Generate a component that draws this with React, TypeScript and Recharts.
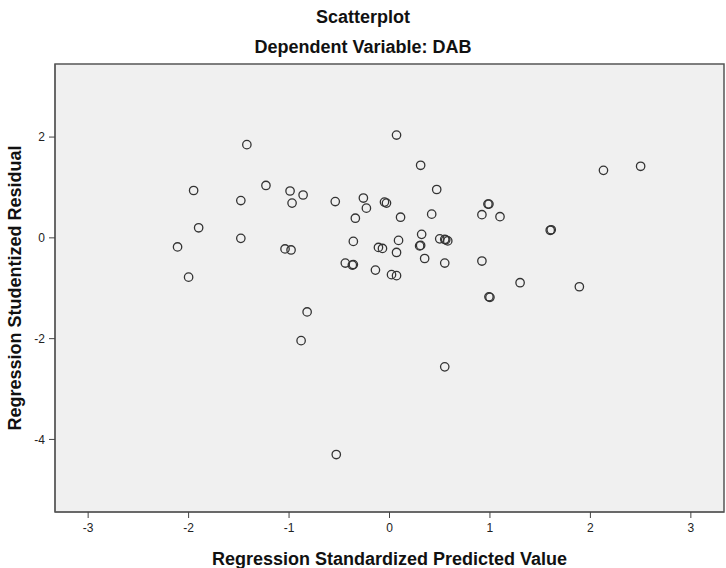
import { ScatterChart, Scatter, XAxis, YAxis, ReferenceArea, Label } from 'recharts'

// standardized predicted value vs studentized residual
const predicted = [
  -2.11, -2.0, -1.95, -1.9, -1.48, -1.48, -1.42, -1.23, -1.04, -0.98,
  -0.99, -0.97, -0.86, -0.82, -0.88, -0.54, -0.53, -0.44, -0.36, -0.37,
  -0.36, -0.34, -0.26, -0.23, -0.14, -0.11, -0.07, -0.05, -0.03, 0.02,
  0.07, 0.07, 0.09, 0.07, 0.11, 0.31, 0.3, 0.31, 0.32, 0.35,
  0.42, 0.47, 0.5, 0.55, 0.56, 0.58, 0.55, 0.55, 0.92, 0.92,
  0.98, 0.99, 0.99, 1.0, 1.1, 1.3, 1.6, 1.61, 1.89, 2.13, 2.5,
]
const residual = [
  -0.18, -0.78, 0.94, 0.2, 0.74, -0.01, 1.85, 1.04, -0.22, -0.24,
  0.93, 0.69, 0.85, -1.47, -2.04, 0.72, -4.3, -0.5, -0.53, -0.54,
  -0.07, 0.39, 0.79, 0.59, -0.64, -0.19, -0.21, 0.71, 0.69, -0.73,
  -0.75, -0.29, -0.05, 2.04, 0.41, 1.44, -0.16, -0.15, 0.07, -0.41,
  0.47, 0.96, -0.02, -0.03, -0.04, -0.06, -0.5, -2.56, 0.46, -0.46,
  0.67, 0.67, -1.17, -1.18, 0.42, -0.89, 0.15, 0.16, -0.97, 1.34, 1.42,
]
const xTicks = [-3, -2, -1, 0, 1, 2, 3]
const yTicks = [-4, -2, 0, 2]

const points = predicted.map((x, i) => ({ x, y: residual[i] }))

const FONT = '"Liberation Sans", Arial, sans-serif'

const Ring = (props: any) => (
  <circle cx={props.cx} cy={props.cy} r={4.2} fill="none" stroke="#333" strokeWidth={1.3} />
)

export default function App() {
  return (
    <div style={{ position: 'absolute', left: 0, top: 0, width: 726, height: 568, background: '#fff', fontFamily: FONT }}>
      <div style={{ position: 'absolute', left: 0, top: 6, width: 726, textAlign: 'center', fontSize: 18, lineHeight: '22px', fontWeight: 'bold', color: '#111' }}>
        Scatterplot
      </div>
      <div style={{ position: 'absolute', left: 0, top: 36, width: 726, textAlign: 'center', fontSize: 18, lineHeight: '22px', fontWeight: 'bold', color: '#111' }}>
        Dependent Variable: DAB
      </div>
      <ScatterChart width={726} height={568} margin={{ top: 64, right: 2, bottom: 0, left: 0 }}>
        <ReferenceArea x1={-3.33} x2={3.33} y1={-5.44} y2={3.45} fill="#f0f0f0" fillOpacity={1} stroke="#555" strokeWidth={1.5} />
        <XAxis
          type="number"
          dataKey="x"
          domain={[-3.33, 3.33]}
          ticks={xTicks}
          allowDataOverflow
          height={56}
          tickSize={6}
          tickMargin={5}
          axisLine={{ stroke: '#555' }}
          tickLine={{ stroke: '#444' }}
          tick={{ fontSize: 12, fill: '#222', fontFamily: FONT }}
        >
          <Label
            value="Regression Standardized Predicted Value"
            position="insideBottom"
            offset={3}
            style={{ fontSize: 18, fontWeight: 'bold', fill: '#111', fontFamily: FONT }}
          />
        </XAxis>
        <YAxis
          type="number"
          dataKey="y"
          domain={[-5.44, 3.45]}
          ticks={yTicks}
          allowDataOverflow
          width={55}
          tickSize={6}
          tickMargin={4}
          axisLine={{ stroke: '#555' }}
          tickLine={{ stroke: '#444' }}
          tick={{ fontSize: 12, fill: '#222', fontFamily: FONT }}
        >
          <Label
            value="Regression Studentized Residual"
            angle={-90}
            position="insideLeft"
            offset={15}
            style={{ textAnchor: 'middle', fontSize: 18, fontWeight: 'bold', fill: '#111', fontFamily: FONT }}
          />
        </YAxis>
        <Scatter data={points} shape={Ring} isAnimationActive={false} />
      </ScatterChart>
    </div>
  )
}
